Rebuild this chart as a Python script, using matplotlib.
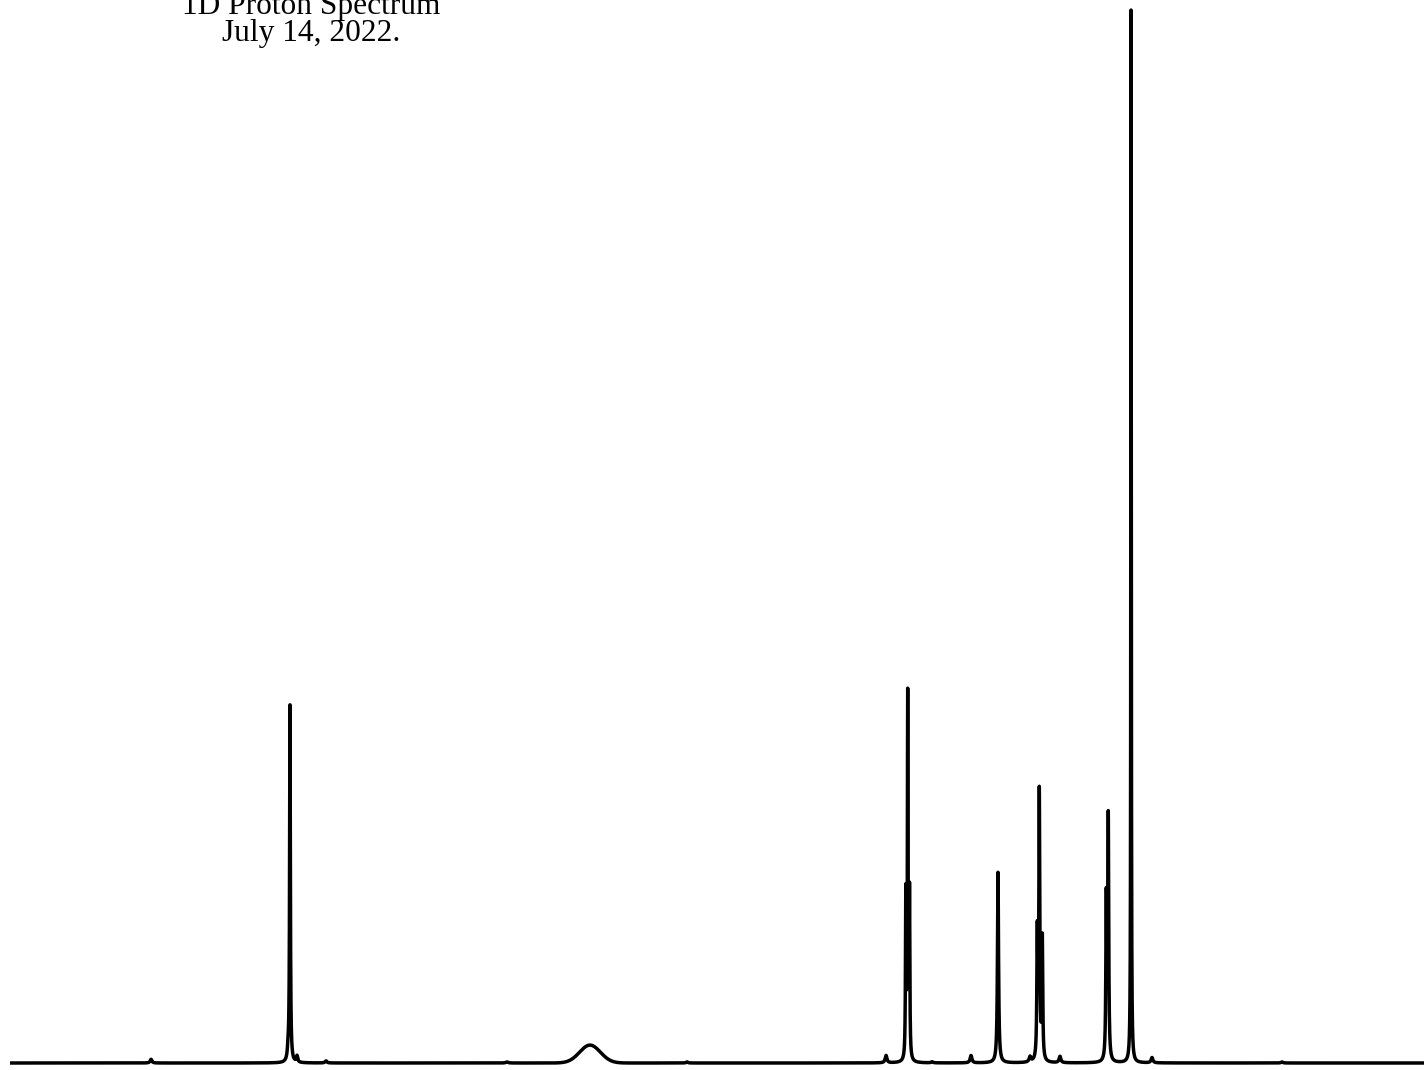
import numpy as np
import matplotlib.pyplot as plt

# ==========================================================
# 1. 피크 목록 (ppm, 상대 강도, 선폭 FWHM ppm)
# ==========================================================
peak_ppm = [8.903, 7.837, 7.822, 7.767, 7.542, 6.134, 5.488, 4.733,
            3.185, 3.0313, 3.0165, 3.0025, 2.827, 2.524, 2.314, 2.065,
            2.0083, 1.9928, 1.9694, 1.832, 1.4717, 1.4562, 1.279, 1.116, 0.105]
peak_height = [0.35, 0.8, 33.9, 0.6, 0.2, 0.1, 1.7, 0.1,
               0.7, 15.5, 34.3, 15.5, 0.1, 0.7, 18.1, 0.5,
               11.8, 25.2, 11.5, 0.6, 15.2, 23.0, 100.0, 0.5, 0.1]
peak_width = [0.016, 0.012, 0.007, 0.012, 0.016, 0.02, 0.19, 0.016,
              0.016, 0.006, 0.006, 0.006, 0.016, 0.016, 0.010, 0.016,
              0.008, 0.008, 0.008, 0.016, 0.008, 0.008, 0.0043, 0.016, 0.016]

title_lines = ['1D Proton Spectrum', 'July 14, 2022.']

# ==========================================================
# 2. 스펙트럼 계산 (로렌츠 선형 합)
# ==========================================================
ppm_left, ppm_right = 10.0, -1.0
ppm = np.linspace(ppm_left, ppm_right, 120000)
spec = np.zeros_like(ppm)
for p0, h, w in zip(peak_ppm, peak_height, peak_width):
    g = w / 2
    if w > 0.1:
        # 넓은 봉우리는 가우시안 모양
        spec += h * np.exp(-4 * np.log(2) * (ppm - p0) ** 2 / w ** 2)
    else:
        spec += h * g ** 2 / ((ppm - p0) ** 2 + g ** 2)

# ==========================================================
# 3. 그리기
# ==========================================================
W, H = 1424, 1070
fig = plt.figure(figsize=(W / 100, H / 100), dpi=100)
ax = fig.add_axes([0, 0, 1, 1])

px_per_ppm = 1414 / 11.0
ax.plot(ppm, spec, color='black', lw=2.5, solid_capstyle='butt')
ax.set_xlim(ppm_left + 10 / px_per_ppm, ppm_right)
baseline_px = 1063
ax.set_ylim(-(H - baseline_px) * 100 / 1053, baseline_px * 100 / 1053)
ax.axis('off')

fig.text(311 / W, 1 - 14 / H, title_lines[0], ha='center', va='baseline',
         family='Liberation Serif', fontsize=22.6)
fig.text(311 / W, 1 - 40.5 / H, title_lines[1], ha='center', va='baseline',
         family='Liberation Serif', fontsize=22.6)

fig.savefig('out.png', dpi=100)
